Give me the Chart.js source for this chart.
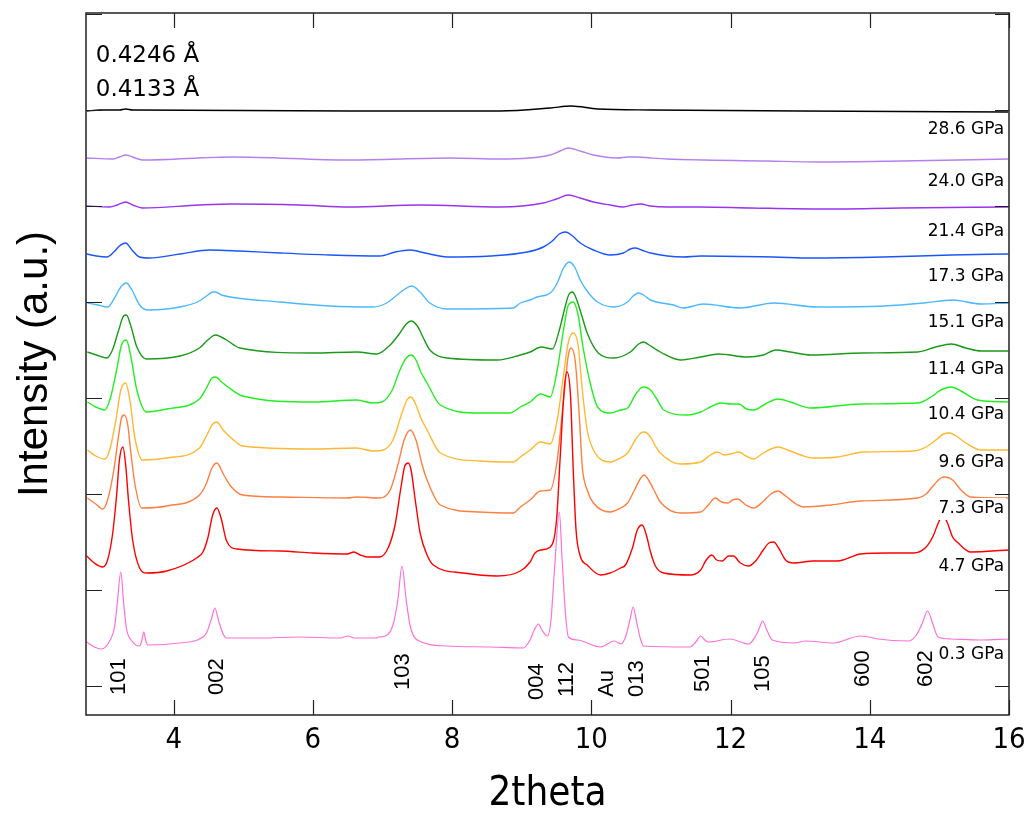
<!DOCTYPE html>
<html>
<head>
<meta charset="utf-8">
<script src="https://cdn.jsdelivr.net/npm/chart.js@4.4.1/dist/chart.umd.min.js"></script>
<style>
  html, body { margin: 0; padding: 0; background: #fff; }
</style>
</head>
<body>
<canvas id="myChart" width="1025" height="815"></canvas>
<script>
// 2theta / intensity (a.u.) pairs, one list per pressure
const p03 = [[2.75,73],[2.86,68],[2.96,66],[3.08,74],[3.15,88],[3.19,112],[3.24,143],[3.28,113],[3.32,87],[3.40,74],[3.51,69],[3.54,74],[3.57,83],[3.60,74],[3.63,70],[4.09,72],[4.37,76],[4.47,82],[4.55,98],[4.59,107],[4.65,93],[4.71,81],[4.76,77],[5.24,77],[5.81,78],[6.39,77],[6.50,79],[6.60,77],[6.91,77],[6.94,78],[7.04,79],[7.15,90],[7.22,115],[7.28,149],[7.34,115],[7.40,88],[7.50,75],[7.93,69],[8.55,68],[9.02,67],[9.12,75],[9.18,85],[9.24,91],[9.29,85],[9.37,79],[9.42,95],[9.47,145],[9.54,203],[9.58,155],[9.63,100],[9.67,78],[9.80,75],[10.13,68],[10.33,74],[10.43,71],[10.50,80],[10.56,97],[10.60,108],[10.65,93],[10.71,75],[10.75,69],[11.42,68],[11.50,73],[11.57,79],[11.63,75],[11.68,73],[11.99,76],[12.26,71],[12.36,79],[12.42,88],[12.46,94],[12.52,85],[12.60,75],[12.91,72],[13.08,74],[13.48,72],[13.86,79],[13.99,78],[14.12,76],[14.55,74],[14.66,79],[14.75,91],[14.83,104],[14.91,90],[14.98,78],[15.17,76],[15.60,75],[15.99,76]];
const p47 = [[2.75,159],[2.86,152],[2.98,148],[3.05,155],[3.12,180],[3.18,220],[3.22,255],[3.27,268],[3.31,250],[3.35,215],[3.41,175],[3.51,147],[3.61,142],[3.90,144],[4.33,157],[4.42,163],[4.49,177],[4.56,200],[4.62,207],[4.68,197],[4.76,174],[4.91,166],[5.53,164],[6.00,162],[6.49,161],[6.59,163],[6.68,160],[6.78,158],[6.96,158],[7.08,167],[7.18,190],[7.27,230],[7.32,249],[7.37,252],[7.41,245],[7.47,215],[7.54,182],[7.64,160],[7.73,150],[8.16,142],[8.65,139],[8.98,144],[9.12,153],[9.19,162],[9.27,165],[9.41,168],[9.50,195],[9.55,255],[9.61,325],[9.65,343],[9.70,320],[9.74,245],[9.78,185],[9.84,159],[9.94,150],[10.13,140],[10.27,142],[10.42,147],[10.49,150],[10.59,167],[10.66,185],[10.73,190],[10.79,180],[10.85,163],[10.92,149],[11.04,142],[11.42,140],[11.57,145],[11.65,155],[11.73,160],[11.80,155],[11.88,154],[11.97,159],[12.04,159],[12.14,152],[12.26,149],[12.36,154],[12.47,165],[12.55,172],[12.62,173],[12.69,167],[12.79,155],[12.91,152],[13.19,154],[13.54,154],[13.87,161],[14.26,162],[14.63,162],[14.81,168],[14.91,179],[14.99,193],[15.05,199],[15.11,193],[15.19,178],[15.27,172],[15.45,163],[15.99,165]];
const p73 = [[2.76,217],[2.88,211],[2.98,206],[3.05,215],[3.14,245],[3.21,280],[3.25,297],[3.29,300],[3.34,290],[3.38,265],[3.44,232],[3.54,207],[3.90,209],[4.37,220],[4.46,230],[4.55,247],[4.62,252],[4.72,240],[4.83,228],[4.99,220],[5.53,218],[6.49,217],[6.63,218],[6.96,217],[7.11,225],[7.22,250],[7.31,275],[7.40,285],[7.48,275],[7.57,250],[7.64,235],[7.83,210],[8.40,203],[8.88,202],[8.98,208],[9.12,215],[9.27,224],[9.41,225],[9.51,255],[9.60,315],[9.67,360],[9.71,367],[9.77,353],[9.83,295],[9.87,248],[9.94,225],[10.03,212],[10.27,203],[10.42,207],[10.52,212],[10.62,225],[10.71,237],[10.76,240],[10.83,234],[10.92,222],[10.99,213],[11.28,202],[11.57,203],[11.68,210],[11.78,217],[11.87,213],[11.96,212],[12.03,215],[12.10,216],[12.22,210],[12.33,207],[12.46,213],[12.58,221],[12.68,224],[12.79,219],[12.94,211],[13.05,208],[13.44,210],[13.87,214],[14.69,217],[14.81,221],[14.92,230],[15.02,237],[15.09,238],[15.19,235],[15.31,225],[15.45,218],[15.99,217]];
const p96 = [[2.76,265],[2.88,259],[3.01,256],[3.08,265],[3.17,295],[3.24,325],[3.31,332],[3.37,315],[3.44,278],[3.55,255],[3.90,257],[4.37,267],[4.47,279],[4.56,291],[4.62,293],[4.71,285],[4.81,278],[4.99,269],[6.00,266],[6.63,267],[6.86,264],[7.01,265],[7.15,275],[7.27,300],[7.35,315],[7.41,318],[7.48,310],[7.55,297],[7.64,285],[7.83,262],[8.40,254],[8.88,253],[8.98,258],[9.12,265],[9.27,273],[9.41,271],[9.51,295],[9.60,340],[9.67,373],[9.74,382],[9.81,370],[9.87,325],[9.94,285],[10.03,265],[10.27,253],[10.42,257],[10.52,262],[10.63,275],[10.71,282],[10.76,283],[10.85,278],[10.92,269],[10.99,262],[11.28,251],[11.57,253],[11.71,260],[11.81,263],[11.91,260],[12.00,261],[12.12,263],[12.22,259],[12.33,256],[12.47,262],[12.58,266],[12.68,268],[12.82,265],[13.01,260],[13.19,257],[13.54,258],[13.91,263],[14.63,264],[14.81,268],[14.95,275],[15.06,281],[15.15,282],[15.24,279],[15.38,272],[15.60,265],[15.99,265]];
const p104 = [[2.76,313],[2.88,308],[3.01,305],[3.09,317],[3.18,345],[3.25,370],[3.32,375],[3.38,360],[3.47,325],[3.61,303],[3.90,306],[4.37,316],[4.47,327],[4.55,337],[4.60,338],[4.69,333],[4.78,328],[4.99,319],[6.00,313],[6.63,315],[6.86,312],[6.99,313],[7.14,325],[7.25,345],[7.34,357],[7.41,360],[7.48,355],[7.55,343],[7.64,332],[7.83,310],[8.40,302],[8.83,302],[8.98,308],[9.12,313],[9.27,321],[9.41,318],[9.51,345],[9.60,385],[9.67,410],[9.74,413],[9.81,400],[9.88,368],[9.99,330],[10.09,308],[10.27,302],[10.42,305],[10.52,307],[10.63,320],[10.71,327],[10.76,328],[10.85,325],[10.94,316],[11.04,305],[11.38,300],[11.57,303],[11.71,308],[11.86,312],[12.00,311],[12.12,311],[12.23,306],[12.33,305],[12.50,311],[12.68,316],[12.86,313],[13.15,307],[13.87,311],[14.69,312],[14.88,318],[15.02,325],[15.17,328],[15.31,324],[15.55,315],[15.99,313]];
const p114 = [[2.76,363],[2.89,360],[3.04,357],[3.12,365],[3.21,385],[3.28,399],[3.32,400],[3.38,390],[3.47,368],[3.61,356],[4.09,359],[4.37,367],[4.49,375],[4.56,379],[4.60,380],[4.68,378],[4.76,375],[4.95,367],[6.00,362],[6.63,363],[6.92,361],[7.11,370],[7.25,382],[7.34,391],[7.41,394],[7.50,389],[7.58,378],[7.68,365],[7.93,357],[8.65,355],[8.98,360],[9.12,363],[9.28,368],[9.44,366],[9.54,385],[9.63,410],[9.68,421],[9.73,423],[9.78,417],[9.86,400],[9.94,382],[10.10,362],[10.32,357],[10.56,363],[10.68,371],[10.75,373],[10.83,370],[10.92,366],[10.99,363],[11.28,355],[11.57,358],[11.83,361],[12.24,358],[12.47,360],[12.65,365],[12.86,363],[13.15,360],[13.91,362],[14.69,363],[14.95,368],[15.17,371],[15.38,367],[15.60,364],[15.99,364]];
const p151 = [[2.76,412],[2.91,410],[3.05,408],[3.15,417],[3.24,428],[3.32,432],[3.40,425],[3.51,410],[3.63,405],[4.09,408],[4.37,414],[4.49,420],[4.56,423],[4.60,423],[4.69,420],[4.81,418],[5.53,413],[6.24,409],[6.86,408],[7.06,412],[7.21,420],[7.32,426],[7.42,429],[7.54,423],[7.68,412],[7.93,406],[8.88,407],[8.98,412],[9.12,415],[9.22,418],[9.41,422],[9.51,432],[9.60,447],[9.68,453],[9.76,448],[9.84,435],[9.96,422],[10.09,413],[10.32,408],[10.52,413],[10.60,419],[10.68,422],[10.75,420],[10.85,415],[11.18,410],[11.32,407],[11.61,411],[12.14,407],[12.62,412],[13.25,408],[14.20,409],[14.78,412],[15.19,415],[15.60,411],[15.99,412]];
const p173 = [[2.75,461],[2.89,459],[3.04,458],[3.14,463],[3.22,469],[3.31,472],[3.40,465],[3.51,458],[3.65,457],[4.09,461],[4.52,465],[4.95,464],[5.53,462],[6.24,460],[6.96,459],[7.18,463],[7.40,465],[7.61,462],[7.93,458],[8.55,459],[9.08,463],[9.31,468],[9.44,474],[9.54,481],[9.63,483],[9.73,479],[9.84,472],[10.03,465],[10.27,460],[10.46,462],[10.56,466],[10.63,467],[10.72,465],[10.85,462],[11.32,458],[11.57,459],[12.62,458],[13.15,457],[14.20,458],[15.17,460],[15.99,461]];
const p214 = [[2.75,509],[3.08,508],[3.19,510],[3.31,513],[3.41,510],[3.55,507],[4.37,510],[4.85,511],[5.81,510],[6.53,508],[7.54,510],[8.69,508],[9.31,512],[9.50,516],[9.67,520],[9.84,517],[10.03,513],[10.27,510],[10.46,508],[10.59,510],[10.71,511],[10.85,509],[11.09,508],[11.57,508],[12.29,507],[13.34,506],[14.45,507],[15.99,508]];
const p240 = [[2.75,557],[3.12,556],[3.22,558],[3.31,560],[3.41,558],[3.55,555],[4.85,558],[6.53,555],[7.97,557],[8.69,556],[9.41,560],[9.55,564],[9.67,567],[9.84,564],[10.03,560],[10.37,557],[10.53,558],[10.66,558],[10.85,557],[11.09,556],[12.53,554],[13.25,553],[14.45,554],[15.99,556]];
const p286 = [[2.75,604],[2.94,605],[3.22,605],[3.31,606],[3.41,605],[6.53,604],[8.69,604],[9.41,607],[9.71,609],[10.09,606],[10.85,605],[13.01,604],[15.99,603]];

const pressures = ['0.3 GPa', '4.7 GPa', '7.3 GPa', '9.6 GPa', '10.4 GPa', '11.4 GPa', '15.1 GPa', '17.3 GPa', '21.4 GPa', '24.0 GPa', '28.6 GPa'];
const patterns = [p03, p47, p73, p96, p104, p114, p151, p173, p214, p240, p286];
const pressureLabelY = [60, 148, 206, 252, 300, 345, 392, 438, 483, 533, 585];

const peakNames = ['101', '002', '103', '004', '112', 'Au', '013', '501', '105', '600', '602'];
const peakLabelX = [3.22, 4.62, 7.29, 9.22, 9.65, 10.23, 10.65, 11.61, 12.47, 13.90, 14.81];
const peakLabelY = [20, 20, 25, 15, 18, 18, 18, 23, 23, 28, 28];

const wavelengths = ['0.4246 Å', '0.4133 Å'];
const wavelengthY = [659, 625];

const xTicks = [4, 6, 8, 10, 12, 14, 16];
const yTicks = [29, 125, 221, 317, 413, 509, 605, 701];

const colors = ['#ff70d8', '#ff0000', '#ff7f42', '#ffb833', '#22ee22', '#1a991a', '#4cb8ff', '#1a55ff', '#9933ee', '#b580ee', '#000000'];

const labelX = 15.93;

const decorations = {
    id: 'decorations',
    afterDatasetsDraw(chart) {
        const { ctx, scales: { x, y } } = chart;
        ctx.save();

        // pressure labels on white boxes
        ctx.font = "17px 'DejaVu Sans'";
        ctx.textAlign = 'right';
        ctx.textBaseline = 'middle';
        pressures.forEach((text, i) => {
            const px = x.getPixelForValue(labelX);
            const py = y.getPixelForValue(pressureLabelY[i]);
            const w = ctx.measureText(text).width;
            ctx.fillStyle = '#fff';
            ctx.fillRect(px - w - 2, py - 11, w + 4, 22);
            ctx.fillStyle = '#000';
            ctx.fillText(text, px, py);
        });

        // peak labels, rotated
        ctx.font = "22px 'Liberation Sans'";
        ctx.textAlign = 'left';
        peakNames.forEach((text, i) => {
            ctx.save();
            ctx.translate(x.getPixelForValue(peakLabelX[i]), y.getPixelForValue(peakLabelY[i]));
            ctx.rotate(-Math.PI / 2);
            ctx.fillText(text, 0, 0);
            ctx.restore();
        });

        ctx.font = "23px 'DejaVu Sans'";
        wavelengths.forEach((text, i) => {
            ctx.fillText(text, x.getPixelForValue(2.88), y.getPixelForValue(wavelengthY[i]));
        });
        ctx.restore();
    },
    afterDraw(chart) {
        const { ctx, chartArea: a, scales: { x, y } } = chart;
        ctx.save();
        ctx.strokeStyle = '#222';
        ctx.lineWidth = 1.5;
        ctx.strokeRect(a.left, a.top, a.right - a.left, a.bottom - a.top);
        ctx.lineWidth = 1.2;
        ctx.beginPath();
        xTicks.forEach(v => {
            const px = Math.round(x.getPixelForValue(v)) + 0.5;
            ctx.moveTo(px, a.bottom);
            ctx.lineTo(px, a.bottom - 15);
            ctx.moveTo(px, a.top);
            ctx.lineTo(px, a.top + 15);
        });
        yTicks.forEach(v => {
            const py = Math.round(y.getPixelForValue(v)) + 0.5;
            ctx.moveTo(a.left, py);
            ctx.lineTo(a.left + 16, py);
            ctx.moveTo(a.right, py);
            ctx.lineTo(a.right - 14, py);
        });
        ctx.stroke();
        ctx.restore();
    }
};

const ctx = document.getElementById('myChart');

new Chart(ctx, {
    type: 'line',
    data: {
        datasets: patterns.map((pts, i) => ({
            label: pressures[i],
            data: pts.map(p => ({ x: p[0], y: p[1] })),
            borderColor: colors[i],
            borderWidth: i === 0 ? 1.2 : 1.4,
            pointRadius: 0,
            fill: false,
            cubicInterpolationMode: 'monotone'
        }))
    },
    options: {
        responsive: false,
        animation: false,
        devicePixelRatio: 1,
        layout: { padding: { top: 13, right: 16, left: 0, bottom: 0 } },
        plugins: {
            legend: { display: false },
            tooltip: { enabled: false }
        },
        scales: {
            x: {
                type: 'linear',
                min: 2.74,
                max: 16,
                afterBuildTicks: scale => { scale.ticks = xTicks.map(v => ({ value: v })); },
                afterFit: scale => {
                    scale.height = 100;
                    scale.paddingLeft = 0;
                    scale.paddingRight = 0;
                },
                grid: { display: false, drawTicks: false },
                border: { display: false },
                ticks: {
                    padding: 8,
                    color: '#000',
                    font: { family: "'Liberation Sans Narrow', 'DejaVu Sans Condensed', sans-serif", size: 29 }
                },
                title: {
                    display: true,
                    text: '2theta',
                    color: '#000',
                    padding: { top: 0, bottom: 0 },
                    font: { family: "'Liberation Sans Narrow', 'DejaVu Sans Condensed', sans-serif", size: 40, lineHeight: 1 }
                }
            },
            y: {
                min: 0,
                max: 702,
                afterBuildTicks: scale => { scale.ticks = yTicks.map(v => ({ value: v })); },
                afterFit: scale => { scale.width = 86; },
                grid: { display: false, drawTicks: false },
                border: { display: false },
                ticks: { display: false },
                title: {
                    display: true,
                    text: 'Intensity (a.u.)',
                    color: '#000',
                    padding: { top: 14, bottom: 0 },
                    font: { family: "'Liberation Sans', sans-serif", size: 42, lineHeight: 1 }
                }
            }
        }
    },
    plugins: [decorations]
});
</script>
</body>
</html>
